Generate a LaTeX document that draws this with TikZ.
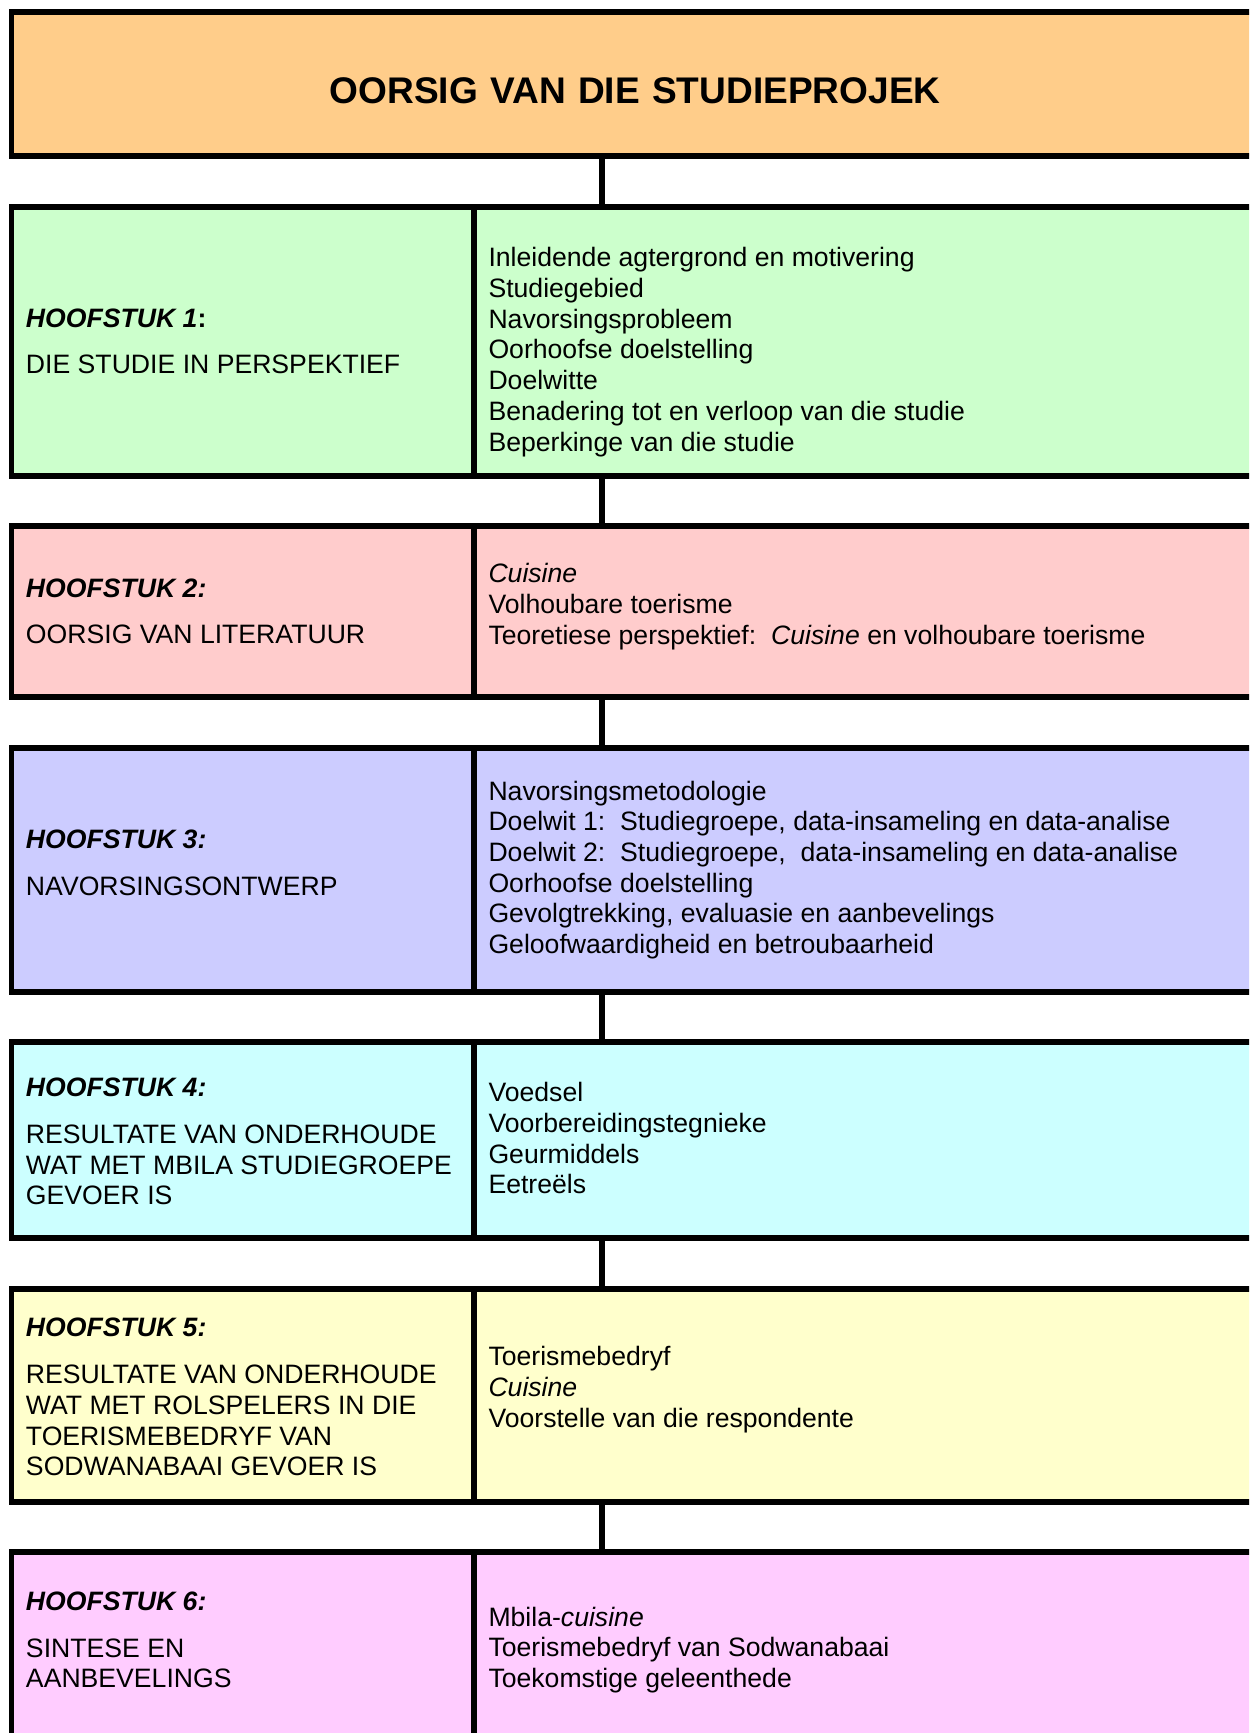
\documentclass[tikz,border=0pt]{standalone}
\usepackage{fontspec}
\setmainfont{Liberation Sans}

\definecolor{titelkleur}{HTML}{FFCD8A}
\definecolor{groen}{HTML}{CCFFCC}
\definecolor{rooi}{HTML}{FFCCCC}
\definecolor{blou}{HTML}{CCCCFF}
\definecolor{siaan}{HTML}{CCFFFF}
\definecolor{geel}{HTML}{FFFFCC}
\definecolor{pienk}{HTML}{FFCCFF}

% text of one cell, lifted by #1, #2 wide
\newcommand\vak[3]{\raisebox{#1}[\height][\depth]{\parbox{#2}{\raggedright #3}}}

\begin{document}
\begin{tikzpicture}[x=0.02cm, y=-0.02cm,
    font=\fontsize{15.15}{17.5}\selectfont,
    sel/.style={draw, line width=3.2pt, anchor=north west, outer sep=0pt, inner xsep=0.29cm, inner ysep=0pt},
    links/.style={sel, minimum width=9.25cm},
    regs/.style={sel, minimum width=15.7cm},
    lyn/.style={line width=3.2pt}]
    \useasboundingbox (0,0) rectangle (1249,1733);
    \clip (0,0) rectangle (1249,1733);

    % Nodes
    \node[sel, fill=titelkleur, minimum width=24.95cm, minimum height=2.88cm, text width=24.37cm, align=center, text height=0.78cm, text depth=0cm, font=\fontsize{21.1}{25}\selectfont\bfseries] at (11.5, 12) (titel) {OORSIG VAN DIE STUDIEPROJEK};

    \node[links, fill=groen, minimum height=5.38cm] at (11.5, 207) (h1l) {\vak{0cm}{8.67cm}{\textbf{\textit{HOOFSTUK 1}:}\\[9pt] DIE STUDIE IN PERSPEKTIEF}};
    \node[regs, fill=groen, minimum height=5.38cm] at (474, 207) (h1r) {\vak{-0.21cm}{15.12cm}{Inleidende agtergrond en motivering\\ Studiegebied\\ Navorsingsprobleem\\ Oorhoofse doelstelling\\ Doelwitte\\ Benadering tot en verloop van die studie\\ Beperkinge van die studie}};

    \node[links, fill=rooi, minimum height=3.42cm] at (11.5, 526) (h2l) {\vak{0cm}{8.67cm}{\textbf{\textit{HOOFSTUK 2:}}\\[9pt] OORSIG VAN LITERATUUR}};
    \node[regs, fill=rooi, minimum height=3.42cm] at (474, 526) (h2r) {\vak{0.1cm}{15.12cm}{\textit{Cuisine}\\ Volhoubare toerisme\\ Teoretiese perspektief:\ \ \textit{Cuisine} en volhoubare toerisme}};

    \node[links, fill=blou, minimum height=4.88cm] at (11.5, 748) (h3l) {\vak{0.14cm}{8.67cm}{\textbf{\textit{HOOFSTUK 3:}}\\[9pt] NAVORSINGSONTWERP}};
    \node[regs, fill=blou, minimum height=4.88cm] at (474, 748) (h3r) {\vak{0cm}{15.12cm}{Navorsingsmetodologie\\ Doelwit 1:\ \ Studiegroepe, data-insameling en data-analise\\ Doelwit 2:\ \ Studiegroepe,\ \ data-insameling en data-analise\\ Oorhoofse doelstelling\\ Gevolgtrekking, evaluasie en aanbevelings\\ Geloofwaardigheid en betroubaarheid}};

    \node[links, fill=siaan, minimum height=3.92cm] at (11.5, 1042) (h4l) {\vak{-0.034cm}{8.67cm}{\textbf{\textit{HOOFSTUK 4:}}\\[9pt] RESULTATE VAN ONDERHOUDE\\ WAT MET MBILA STUDIEGROEPE\\ GEVOER IS}};
    \node[regs, fill=siaan, minimum height=3.92cm] at (474, 1042) (h4r) {\vak{0.034cm}{15.12cm}{Voedsel\\ Voorbereidingstegnieke\\ Geurmiddels\\ Eetreëls}};

    \node[links, fill=geel, minimum height=4.26cm] at (11.5, 1289) (h5l) {\vak{-0.034cm}{8.67cm}{\textbf{\textit{HOOFSTUK 5:}}\\[9pt] RESULTATE VAN ONDERHOUDE\\ WAT MET ROLSPELERS IN DIE\\ TOERISMEBEDRYF VAN\\ SODWANABAAI GEVOER IS}};
    \node[regs, fill=geel, minimum height=4.26cm] at (474, 1289) (h5r) {\vak{0.12cm}{15.12cm}{Toerismebedryf\\ \textit{Cuisine}\\ Voorstelle van die respondente}};

    \node[links, fill=pienk, minimum height=3.76cm] at (11.5, 1552) (h6l) {\vak{0.12cm}{8.67cm}{\textbf{\textit{HOOFSTUK 6:}}\\[9pt] SINTESE EN\\ AANBEVELINGS}};
    \node[regs, fill=pienk, minimum height=3.76cm] at (474, 1552) (h6r) {\vak{-0.08cm}{15.12cm}{Mbila-\textit{cuisine}\\ Toerismebedryf van Sodwanabaai\\ Toekomstige geleenthede}};

    % Lines
    \coordinate (as) at (602, 0);
    \draw[lyn] (titel.south -| as) -- (h1r.north -| as);
    \draw[lyn] (h1r.south -| as) -- (h2r.north -| as);
    \draw[lyn] (h2r.south -| as) -- (h3r.north -| as);
    \draw[lyn] (h3r.south -| as) -- (h4r.north -| as);
    \draw[lyn] (h4r.south -| as) -- (h5r.north -| as);
    \draw[lyn] (h5r.south -| as) -- (h6r.north -| as);
\end{tikzpicture}
\end{document}
